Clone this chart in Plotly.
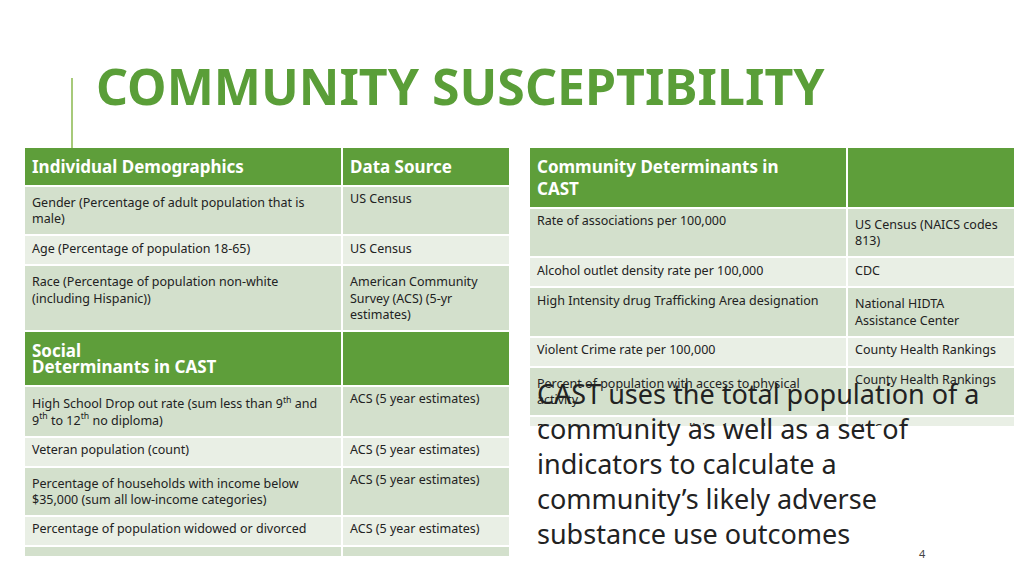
import plotly.graph_objects as go

W, H = 1024, 575
GREEN = "#5e9e3a"
L1, L2 = "#d3e0cc", "#e9efe5"

left_col1 = ["Gender (Percentage of adult population that is<br>male)",
             "Age (Percentage of population 18-65)",
             "Race (Percentage of population non-white<br>(including Hispanic))",
             "<span style='font-size:17px;color:white'><b>Social Determinants in CAST</b></span>",
             "High School Drop out rate (sum less than 9<sup>th</sup> and<br>9<sup>th</sup> to 12<sup>th</sup> no diploma)",
             "Veteran population (count)",
             "Percentage of households with income below<br>$35,000 (sum all low-income categories)",
             "Percentage of population widowed or divorced",
             "Percentage uninsured<br> <br> "]
left_col2 = ["US Census", "US Census",
             "American Community<br>Survey (ACS) (5-yr<br>estimates)", "",
             "ACS (5 year estimates)", "ACS (5 year estimates)",
             "ACS (5 year estimates)", "ACS (5 year estimates)",
             "US Census Small Area<br>Health Insurance<br>Estimates"]
left_headers = ["<b>Individual Demographics</b>", "<b>Data Source</b>"]

right_col1 = ["Rate of associations per 100,000",
              "Alcohol outlet density rate per 100,000",
              "High Intensity drug Trafficking Area designation",
              "Violent Crime rate per 100,000",
              "Percent of population with access to physical<br>activity",
              "Percentage of population living in rural area"]
right_col2 = ["US Census (NAICS codes<br>813)", "CDC",
              "National HIDTA<br>Assistance Center",
              "County Health Rankings", "County Health Rankings", "US Census"]
right_headers = ["<b>Community Determinants in<br>CAST</b>", ""]

def fills(n, special=None):
    return [GREEN if i == special else (L1 if i % 2 == 0 else L2) for i in range(n)]

lf = fills(len(left_col1), special=3)
rf = fills(len(right_col1))

fig = go.Figure()
fig.add_trace(go.Table(
    domain=dict(x=[16/W, 502/W], y=[1-548/H, 1-139/H]),
    columnwidth=[318, 168],
    header=dict(values=left_headers, fill_color=GREEN, align="left", height=33,
                font=dict(color="white", size=17, family="Noto Sans"),
                line=dict(color="white", width=2)),
    cells=dict(values=[left_col1, left_col2], fill_color=[lf, lf], align="left",
               height=30, font=dict(color="#222", size=12.5, family="Noto Sans"),
               line=dict(color="white", width=2))))
fig.add_trace(go.Table(
    domain=dict(x=[521/W, 1007/W], y=[1-418/H, 1-139/H]),
    columnwidth=[318, 168],
    header=dict(values=right_headers, fill_color=GREEN, align="left", height=59,
                font=dict(color="white", size=17, family="Noto Sans"),
                line=dict(color="white", width=2)),
    cells=dict(values=[right_col1, right_col2], fill_color=[rf, rf], align="left",
               height=30, font=dict(color="#222", size=12.5, family="Noto Sans"),
               line=dict(color="white", width=2))))

fig.add_annotation(x=86/W, y=1-78/H, xref="paper", yref="paper", xanchor="left", yanchor="middle",
                   text="<b>COMMUNITY SUSCEPTIBILITY</b>", showarrow=False,
                   font=dict(size=50, color="#5a9e38", family="Noto Sans"))
fig.add_shape(type="line", xref="paper", yref="paper", x0=64/W, x1=64/W, y0=1-70/H, y1=1-140/H,
              line=dict(color="#8ab84e", width=1.5))
fig.add_annotation(x=527/W, y=1-546/H, xref="paper", yref="paper", xanchor="left", yanchor="bottom",
                   align="left", showarrow=False,
                   text="CAST uses the total population of a<br>community as well as a set of<br>indicators to calculate a<br>community’s likely adverse<br>substance use outcomes",
                   font=dict(size=27, color="#222", family="Noto Sans"))
fig.add_annotation(x=920/W, y=1-555/H, xref="paper", yref="paper", showarrow=False,
                   text="4", font=dict(size=11, color="#444", family="Noto Sans"))

fig.update_layout(width=W, height=H, margin=dict(l=0, r=0, t=0, b=0),
                  paper_bgcolor="white", plot_bgcolor="white", showlegend=False)
fig.write_html("out.html")
